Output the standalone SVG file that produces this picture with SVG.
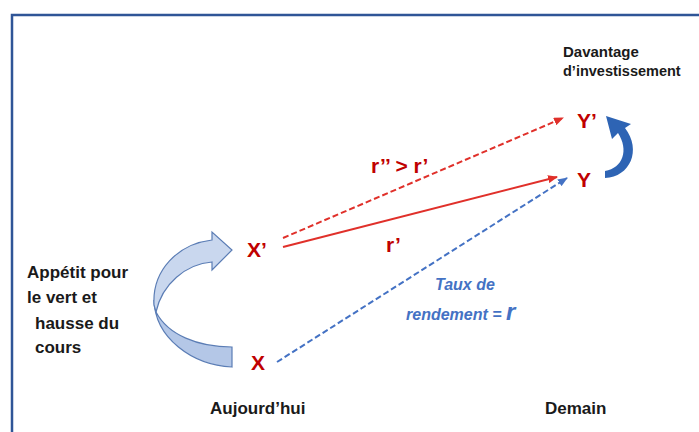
<svg xmlns="http://www.w3.org/2000/svg" width="699" height="432" viewBox="0 0 699 432">
<defs>
<style>
.lbl{font-family:"Liberation Sans",Arial,sans-serif;font-weight:bold;fill:#C00000;font-size:21px}
.blk{font-family:"Liberation Sans",Arial,sans-serif;font-weight:bold;fill:#1a1a1a}
.blu{font-family:"Liberation Sans",Arial,sans-serif;font-weight:bold;font-style:italic;fill:#4472C4;font-size:16px}
.red{stroke:#E0302A;stroke-width:2;fill:none}
.bdash{stroke:#4472C4;stroke-width:2;fill:none;stroke-dasharray:6 3}
</style>
<marker id="ar" markerWidth="10" markerHeight="8" refX="9" refY="4" orient="auto" markerUnits="userSpaceOnUse">
<path d="M0,0 L10,4 L0,8 Z" fill="#E0302A"/>
</marker>
<marker id="ab" markerWidth="10" markerHeight="8" refX="9" refY="4" orient="auto" markerUnits="userSpaceOnUse">
<path d="M0,0 L10,4 L0,8 Z" fill="#4472C4"/>
</marker>
</defs>
<rect x="0" y="0" width="699" height="432" fill="#ffffff"/>
<path d="M12,440 L12,15 L705,15" fill="none" stroke="#2F5597" stroke-width="2.5"/>

<g id="connectors">
<line class="red" x1="283" y1="238" x2="563" y2="118" stroke-dasharray="6 3" marker-end="url(#ar)"/>
<line class="red" x1="283" y1="247" x2="557" y2="177" marker-end="url(#ar)"/>
<line class="bdash" x1="277" y1="362" x2="567" y2="178" marker-end="url(#ab)"/>
</g>

<g id="left-arrow">
<path d="M154,300 C155,338 192,365 232,367 L232,347 C198,347 168,335 156,312 Z" fill="#B4C7E7" stroke="#5B7DB5" stroke-width="1.2"/>
<path d="M154,305 C152,270 178,244 212,240 L212,232 L232,250 L212,270 L212,262 C186,264 162,284 156,312 Z" fill="#C9D7EE" stroke="#5B7DB5" stroke-width="1.2"/>
</g>

<g id="right-arrow">
<path d="M605,178 C630,177 642,150 625,128 L631,124 L606,116 L612,139 L618,133 C629,150 623,168 605,171 Z" fill="#2E64B4"/>
</g>

<g id="node-X"><text class="lbl" x="251" y="370">X</text></g>
<g id="node-Xp"><text class="lbl" x="247" y="257">X’</text></g>
<g id="node-Y"><text class="lbl" x="577" y="187">Y</text></g>
<g id="node-Yp"><text class="lbl" x="577" y="128">Y’</text></g>

<g id="labels">
<text class="lbl" x="371" y="173" font-size="20">r’’ &gt; r’</text>
<text class="lbl" x="386" y="252" font-size="20">r’</text>
<text class="blu" x="435" y="290">Taux de</text>
<text class="blu" x="406" y="320" font-size="17">rendement = <tspan font-size="24">r</tspan></text>
<text class="blk" x="563" y="57" font-size="15">Davantage</text>
<text class="blk" x="563" y="76" font-size="14.5">d’investissement</text>
<text class="blk" x="27" y="278" font-size="17">Appétit pour</text>
<text class="blk" x="27" y="303" font-size="17">le vert et</text>
<text class="blk" x="35" y="329" font-size="17">hausse du</text>
<text class="blk" x="35" y="353" font-size="17">cours</text>
<text class="blk" x="210" y="414" font-size="17">Aujourd’hui</text>
<text class="blk" x="545" y="414" font-size="17">Demain</text>
</g>
</svg>
